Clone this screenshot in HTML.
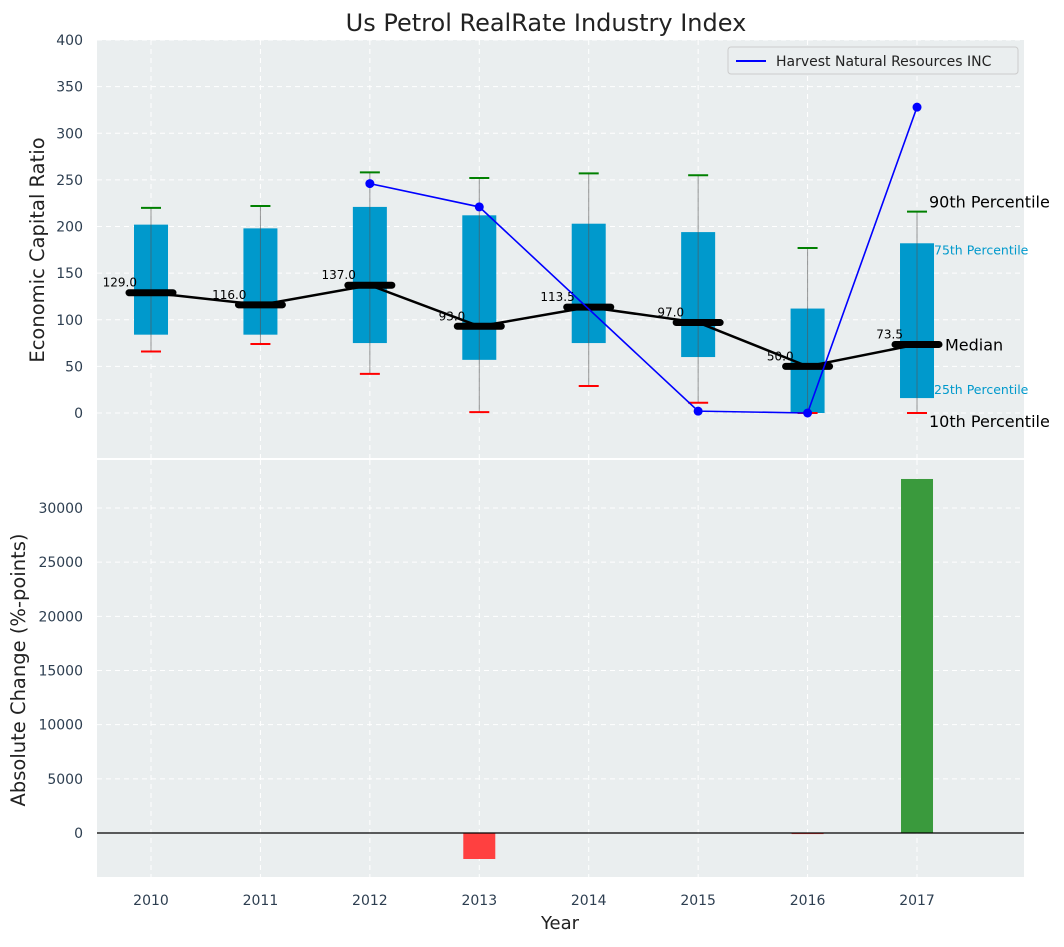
<!DOCTYPE html>
<html><head><meta charset="utf-8"><style>
body{margin:0;background:#fff;}
svg{font-family:"DejaVu Sans","Liberation Sans",sans-serif;}
</style></head><body>
<svg id="c" width="1064" height="942" xmlns="http://www.w3.org/2000/svg">
<text x="546" y="31" font-size="24" text-anchor="middle" fill="#222">Us Petrol RealRate Industry Index</text>
<rect x="97" y="40" width="927" height="418" fill="#eaeeef"/>
<rect x="97" y="460" width="927" height="417" fill="#eaeeef"/>
<g id="gtop"></g><g id="gbot"></g>
<text x="44" y="250" font-size="19.5" text-anchor="middle" fill="#222" transform="rotate(-90 44 250)">Economic Capital Ratio</text>
<text x="25" y="670" font-size="19.5" text-anchor="middle" fill="#222" transform="rotate(-90 25 670)">Absolute Change (%-points)</text>
<text x="560" y="929" font-size="18" text-anchor="middle" fill="#222">Year</text>
<g>
<rect x="728" y="47" width="290" height="27" fill="#eaeeef" stroke="#ccc" rx="3"/>
<line x1="736" y1="61" x2="766" y2="61" stroke="blue" stroke-width="2"/>
<text x="776" y="66" font-size="14" fill="#222">Harvest Natural Resources INC</text>
</g>
</svg>
<script>
const years=[2010,2011,2012,2013,2014,2015,2016,2017];
const p10=[66,74,42,1,29,11,0,0];
const q1=[84,84,75,57,75,60,0,16];
const med=[129,116,137,93,113.5,97,50,73.5];
const q3=[202,198,221,212,203,194,112,182];
const p90=[220,222,258,252,257,255,177,216];
const harvest=[null,null,246,221,null,2,0,328];
const change=[0,0,0,-2400,0,0,-100,32680];
const yTicksTop=[0,50,100,150,200,250,300,350,400];
const yTicksBot=[0,5000,10000,15000,20000,25000,30000];
const NS="http://www.w3.org/2000/svg";
const xS=i=>151+i*109.43;
const yT=v=>413-v*0.9325;
const yB=v=>833-v*0.010833;
function mk(p,t,a){const e=document.createElementNS(NS,t);for(const k in a)e.setAttribute(k,a[k]);p.appendChild(e);return e;}
const gTop=document.getElementById('gtop'),gBot=document.getElementById('gbot');
years.forEach((y,i)=>{
 let g=mk(gTop,'line',{x1:xS(i),x2:xS(i),y1:40,y2:458,stroke:'#fff','stroke-dasharray':'5,4','stroke-width':1});
 
 let g2=mk(gBot,'line',{x1:xS(i),x2:xS(i),y1:460,y2:877,stroke:'#fff','stroke-dasharray':'5,4','stroke-width':1});
 
 let t=mk(gBot,'text',{x:xS(i),y:905,'font-size':14,'text-anchor':'middle',fill:'#2d3e50'});t.textContent=y;
 
});
yTicksTop.forEach(v=>{
 let g=mk(gTop,'line',{x1:97,x2:1024,y1:yT(v),y2:yT(v),stroke:'#fff','stroke-dasharray':'5,4'});
 
 let t=mk(gTop,'text',{x:83,y:yT(v)+5,'font-size':14,'text-anchor':'end',fill:'#2d3e50'});t.textContent=v;
 
});
yTicksBot.forEach(v=>{
 let g=mk(gBot,'line',{x1:97,x2:1024,y1:yB(v),y2:yB(v),stroke:'#fff','stroke-dasharray':'5,4'});
 
 let t=mk(gBot,'text',{x:83,y:yB(v)+5,'font-size':14,'text-anchor':'end',fill:'#2d3e50'});t.textContent=v;
 
});
years.forEach((y,i)=>{
 const x=xS(i);
 let b=mk(gTop,'rect',{x:x-17,y:yT(q3[i]),width:34,height:yT(q1[i])-yT(q3[i]),fill:'#0099cc'});
 
 let w=mk(gTop,'line',{x1:x,x2:x,y1:yT(p90[i]),y2:yT(p10[i]),stroke:'#555','stroke-opacity':0.6,'stroke-width':1});
 
 let c1=mk(gTop,'line',{x1:x-10,x2:x+10,y1:yT(p90[i]),y2:yT(p90[i]),stroke:'green','stroke-width':2});
 
 let c2=mk(gTop,'line',{x1:x-10,x2:x+10,y1:yT(p10[i]),y2:yT(p10[i]),stroke:'red','stroke-width':2});
 
});
let pts=med.map((v,i)=>xS(i)+','+yT(v)).join(' ');
let ml=mk(gTop,'polyline',{points:pts,fill:'none',stroke:'#000','stroke-width':2.5});

med.forEach((v,i)=>{
 let m=mk(gTop,'line',{x1:xS(i)-22,x2:xS(i)+22,y1:yT(v),y2:yT(v),stroke:'#000','stroke-width':7,'stroke-linecap':'round'});
 
 let t=mk(gTop,'text',{x:xS(i)-14,y:yT(v)-6,'font-size':12,'text-anchor':'end',fill:'#000'});t.textContent=v.toFixed(1);
 
});
let cur=[];
harvest.forEach((v,i)=>{if(v!==null)cur.push(xS(i)+','+yT(v));});
let hl=mk(gTop,'polyline',{points:cur.join(' '),fill:'none',stroke:'blue','stroke-width':1.6});

harvest.forEach((v,i)=>{if(v===null)return;
 let d=mk(gTop,'circle',{cx:xS(i),cy:yT(v),r:4.5,fill:'blue'});
 });
const L=years.length-1,lx=xS(L);
const ann=[['90th Percentile',p90[L],lx+12,16,'#000',-10],['75th Percentile',q3[L],lx+17,12.5,'#0099cc',5],['Median',med[L],lx+28,16,'#000',0],['25th Percentile',q1[L],lx+17,12.5,'#0099cc',-10],['10th Percentile',p10[L],lx+12,16,'#000',8]];
ann.forEach(a=>{
 let t=mk(gTop,'text',{x:a[2],y:yT(a[1])+a[5]+6,'font-size':a[3],fill:a[4]});t.textContent=a[0];
 
});
change.forEach((v,i)=>{
 if(v===0)return;
 let y0=yB(Math.max(v,0)),h=Math.abs(yB(v)-yB(0));
 let r=mk(gBot,'rect',{x:xS(i)-16,y:y0,width:32,height:Math.max(h,1),fill:v>0?'#3a9a3d':'#ff4040'});
 
});
let z=mk(gBot,'line',{x1:97,x2:1024,y1:yB(0),y2:yB(0),stroke:'#000','stroke-width':1.2});

</script>
</body></html>
